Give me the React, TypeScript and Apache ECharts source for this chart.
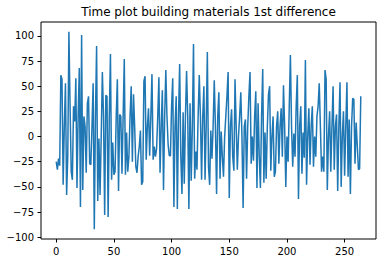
import React, { useEffect, useRef } from "react";
import * as echarts from "echarts";

const chartTitle = "Time plot building materials 1st difference";
const xTicks = [0, 50, 100, 150, 200, 250];
const yTicks = [-100, -75, -50, -25, 0, 25, 50, 75, 100];

const diffValues: number[] = [
  -25, -33, -22, -29, 61, 57, -48, 10, 53, -58,
  -20, 104, 30, -35, -43, 30, 15, 58, -51, 20,
  68, -70, 101, -53, 20, 10, -36, 33, 40, -27,
  -28, 10, 53, -92, 20, 90, -64, -2, -58, 0,
  64, 20, -78, 41, 40, -80, 20, 82, -43, -6,
  -38, -35, 20, 57, -54, 22, 20, -37, 20, 77,
  -38, 4, -35, -20, 20, 50, -25, 42, 10, -30,
  -36, -20, -10, 6, -48, -45, 55, 60, -23, 10,
  28, -19, 20, 62, -23, -10, -20, -12, 20, 59,
  -36, 10, 46, -53, 20, 66, 20, -8, -19, -19,
  30, 58, -70, 10, 40, -72, 20, 72, -20, -57,
  24, -47, 20, 65, 20, -72, 33, -44, 10, 92,
  -42, -15, -33, 20, 61, 20, -43, 20, 50, -43,
  10, 84, -30, -48, 6, -22, 10, 56, 10, -57,
  20, 44, -42, 5, -20, -40, 0, 20, 40, 64,
  -61, 10, 27, -20, -34, 57, 10, -33, 0, 20,
  44, 0, -71, 10, 17, -42, 10, 40, 64, -27,
  0, -24, 20, 45, -51, 33, -20, -51, 20, 67,
  -46, 4, -42, 10, 42, 50, -34, 0, 20, -40,
  -35, 10, 25, -27, 10, 28, -20, 51, 10, -50,
  0, -25, 30, 81, 10, -30, 3, -20, 30, 61,
  -62, 10, 30, -37, 4, -21, 76, -48, 0, 28,
  -28, 10, 30, -30, 0, -20, 20, 30, 53, 10,
  -35, -20, -35, 66, 57, -53, 0, 25, -35, 10,
  50, -33, 10, 22, -54, 10, 54, -50, 0, 25,
  -39, 10, 54, -40, 17, -57, 10, 38, 37, -27,
  14, -10, -33, -32, 40,
];

const fmt = (v: number) => String(v).replace("-", "\u2212");
const FONT = "DejaVu Sans";

export default function App() {
  const ref = useRef<HTMLDivElement>(null);
  useEffect(() => {
    document.body.style.margin = "0";
    const chart = echarts.init(ref.current!, null, { renderer: "svg" });
    const n = diffValues.length - 1;
    const yMin = Math.min(...diffValues);
    const yMax = Math.max(...diffValues);
    const yPad = (yMax - yMin) * 0.05;
    chart.setOption({
      animation: false,
      backgroundColor: "#fff",
      grid: {
        left: 41,
        right: 10,
        top: 22,
        bottom: 25,
        show: true,
        borderColor: "#000",
        borderWidth: 1,
        backgroundColor: "#fff",
      },
      graphic: [
        {
          type: "text",
          x: 208.5,
          y: 12,
          style: {
            text: chartTitle,
            fontSize: 12,
            fontFamily: FONT,
            fill: "#000",
            textAlign: "center",
            textVerticalAlign: "middle",
          },
        },
      ],
      xAxis: {
        type: "value",
        min: -0.05 * n,
        max: 1.05 * n,
        splitLine: { show: false },
        axisLine: { show: false, onZero: false },
        axisTick: {
          show: true,
          length: 3.5,
          inside: false,
          lineStyle: { color: "#000", width: 1 },
          customValues: xTicks,
        },
        axisLabel: {
          customValues: xTicks,
          fontSize: 10,
          fontFamily: FONT,
          color: "#000",
          margin: 7,
          formatter: fmt,
        },
      },
      yAxis: {
        type: "value",
        min: yMin - yPad,
        max: yMax + yPad,
        splitLine: { show: false },
        axisLine: { show: false, onZero: false },
        axisTick: {
          show: true,
          length: 3.5,
          inside: false,
          lineStyle: { color: "#000", width: 1 },
          customValues: yTicks,
        },
        axisLabel: {
          customValues: yTicks,
          fontSize: 10,
          fontFamily: FONT,
          color: "#000",
          margin: 7,
          formatter: fmt,
        },
      },
      series: [
        {
          type: "line",
          data: diffValues.map((v, i) => [i, v]),
          showSymbol: false,
          symbol: "none",
          lineStyle: { color: "#1f77b4", width: 1.5 },
          itemStyle: { color: "#1f77b4" },
        },
      ],
    });
    return () => chart.dispose();
  }, []);
  return <div ref={ref} style={{ width: 386, height: 264 }} />;
}
